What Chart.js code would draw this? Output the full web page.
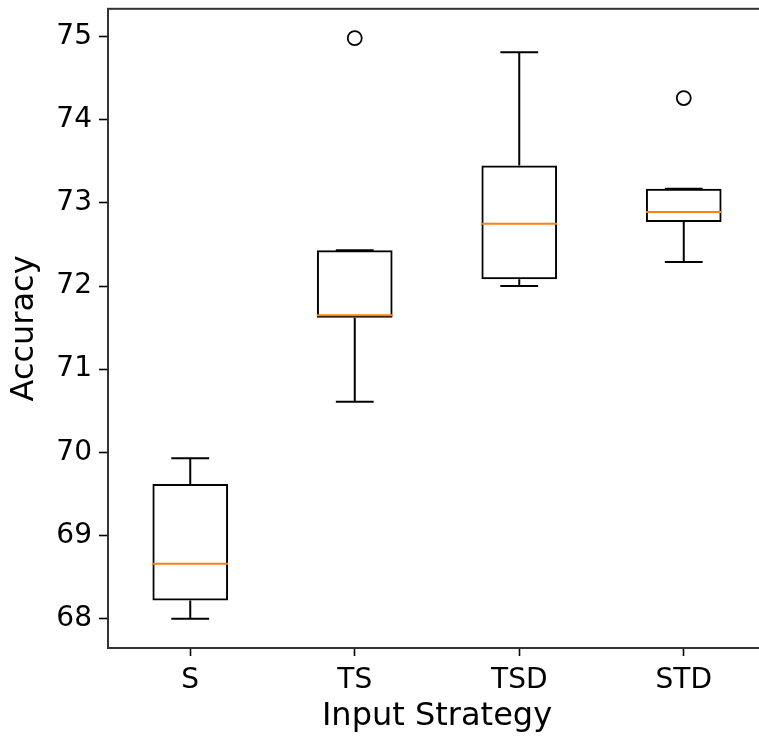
<!DOCTYPE html>
<html>
<head>
<meta charset="utf-8">
<script src="https://cdn.jsdelivr.net/npm/chart.js@4/dist/chart.umd.min.js"></script>
<style>
    html, body { margin: 0; padding: 0; background: #fff; overflow: hidden; }
    canvas { display: block; }
</style>
</head>
<body>
<canvas id="boxChart" width="800" height="738"></canvas>
<script>
// Box plot values
const categories = ['S', 'TS', 'TSD', 'STD'];
const whiskerLow = [68.00, 70.61, 72.00, 72.29];
const q1 = [68.22, 71.62, 72.08, 72.77];
const medians = [68.66, 71.65, 72.75, 72.89];
const q3 = [69.62, 72.43, 73.45, 73.17];
const whiskerHigh = [69.93, 72.43, 74.81, 73.17];
const outliers = [null, 74.98, null, 74.26];
const yTicks = [68, 69, 70, 71, 72, 73, 74, 75];

const FONT = 'DejaVu Sans';
// the right spine of the original figure sits just outside the picture
const PLOT_RIGHT = 766;

/**
 * Draws the whiskers, caps, medians and the frame (spines)
 * using the chart scales
 */
const boxPlotPlugin = {
    id: 'boxPlot',
    afterDatasetsDraw(chart) {
        const ctx = chart.ctx;
        const x = chart.scales.x;
        const y = chart.scales.y;
        const step = x.getPixelForValue(1) - x.getPixelForValue(0);
        const boxHalf = step * 0.46 / 2;
        const capHalf = boxHalf / 2;

        ctx.save();
        ctx.lineCap = 'butt';
        categories.forEach(function (cat, i) {
            const cx = x.getPixelForValue(i);

            ctx.strokeStyle = '#000';
            ctx.lineWidth = 2;
            ctx.beginPath();
            // whiskers
            ctx.moveTo(cx, y.getPixelForValue(q3[i]));
            ctx.lineTo(cx, y.getPixelForValue(whiskerHigh[i]));
            ctx.moveTo(cx, y.getPixelForValue(q1[i]));
            ctx.lineTo(cx, y.getPixelForValue(whiskerLow[i]));
            // caps
            ctx.moveTo(cx - capHalf, y.getPixelForValue(whiskerHigh[i]));
            ctx.lineTo(cx + capHalf, y.getPixelForValue(whiskerHigh[i]));
            ctx.moveTo(cx - capHalf, y.getPixelForValue(whiskerLow[i]));
            ctx.lineTo(cx + capHalf, y.getPixelForValue(whiskerLow[i]));
            ctx.stroke();

            // median
            ctx.strokeStyle = '#ff7f0e';
            ctx.lineWidth = 2;
            ctx.beginPath();
            ctx.moveTo(cx - boxHalf, y.getPixelForValue(medians[i]));
            ctx.lineTo(cx + boxHalf, y.getPixelForValue(medians[i]));
            ctx.stroke();
        });

        // frame
        const a = chart.chartArea;
        ctx.strokeStyle = '#333';
        ctx.lineWidth = 2;
        ctx.strokeRect(a.left, a.top, a.right - a.left, a.bottom - a.top);
        ctx.restore();
    }
};

function getBoxPlotOptions() {
    return {
        responsive: false,
        devicePixelRatio: 1,
        animation: false,
        layout: { padding: { top: 8, right: 26, left: 0, bottom: 0 } },
        plugins: {
            legend: { display: false },
            tooltip: { enabled: false }
        },
        scales: {
            x: {
                offset: true,
                afterFit: function (scale) {
                    scale.height = 90;
                    scale.paddingLeft = 0;
                    scale.paddingRight = 0;
                },
                grid: {
                    offset: false,
                    drawOnChartArea: false,
                    drawTicks: true,
                    tickLength: 8,
                    tickColor: '#000',
                    tickWidth: 1.6
                },
                border: { display: false },
                ticks: {
                    color: '#000',
                    padding: 8,
                    font: { family: FONT, size: 28 }
                },
                title: {
                    display: true,
                    text: 'Input Strategy',
                    color: '#000',
                    padding: { top: 0, bottom: 2 },
                    font: { family: FONT, size: 32, lineHeight: 1.2 }
                }
            },
            y: {
                min: 67.648,
                max: 75.333,
                afterFit: function (scale) {
                    scale.width = 108;
                    scale.paddingTop = 0;
                    scale.paddingBottom = 0;
                },
                afterBuildTicks: function (scale) {
                    scale.ticks = yTicks.map(function (v) { return { value: v }; });
                },
                grid: {
                    drawOnChartArea: false,
                    drawTicks: true,
                    tickLength: 9,
                    tickColor: '#000',
                    tickWidth: 1.6
                },
                border: { display: false },
                ticks: {
                    color: '#000',
                    padding: 7,
                    font: { family: FONT, size: 28 }
                },
                title: {
                    display: true,
                    text: 'Accuracy',
                    color: '#000',
                    padding: { top: 5, bottom: 0 },
                    font: { family: FONT, size: 32, lineHeight: 1.2 }
                }
            }
        }
    };
}

function createBoxPlotChart(canvasId) {
    const ctx = document.getElementById(canvasId).getContext('2d');
    const boxes = categories.map(function (c, i) { return [q1[i], q3[i]]; });

    return new Chart(ctx, {
        type: 'bar',
        data: {
            labels: categories,
            datasets: [
                {
                    label: 'box',
                    data: boxes,
                    backgroundColor: 'rgba(0,0,0,0)',
                    borderColor: '#000',
                    borderWidth: 2,
                    borderSkipped: false,
                    barPercentage: 0.46,
                    categoryPercentage: 1
                },
                {
                    type: 'line',
                    label: 'outliers',
                    data: outliers,
                    showLine: false,
                    pointRadius: 7,
                    pointBorderWidth: 1.8,
                    pointBorderColor: '#000',
                    pointBackgroundColor: 'rgba(0,0,0,0)'
                }
            ]
        },
        options: getBoxPlotOptions(),
        plugins: [boxPlotPlugin]
    });
}

const chart = createBoxPlotChart('boxChart');
// nudge the right padding so the plot area ends where the original did
const extra = PLOT_RIGHT - chart.chartArea.right;
if (Math.abs(extra) > 0.5) {
    chart.options.layout.padding.right -= extra;
    chart.update();
}
</script>
</body>
</html>
